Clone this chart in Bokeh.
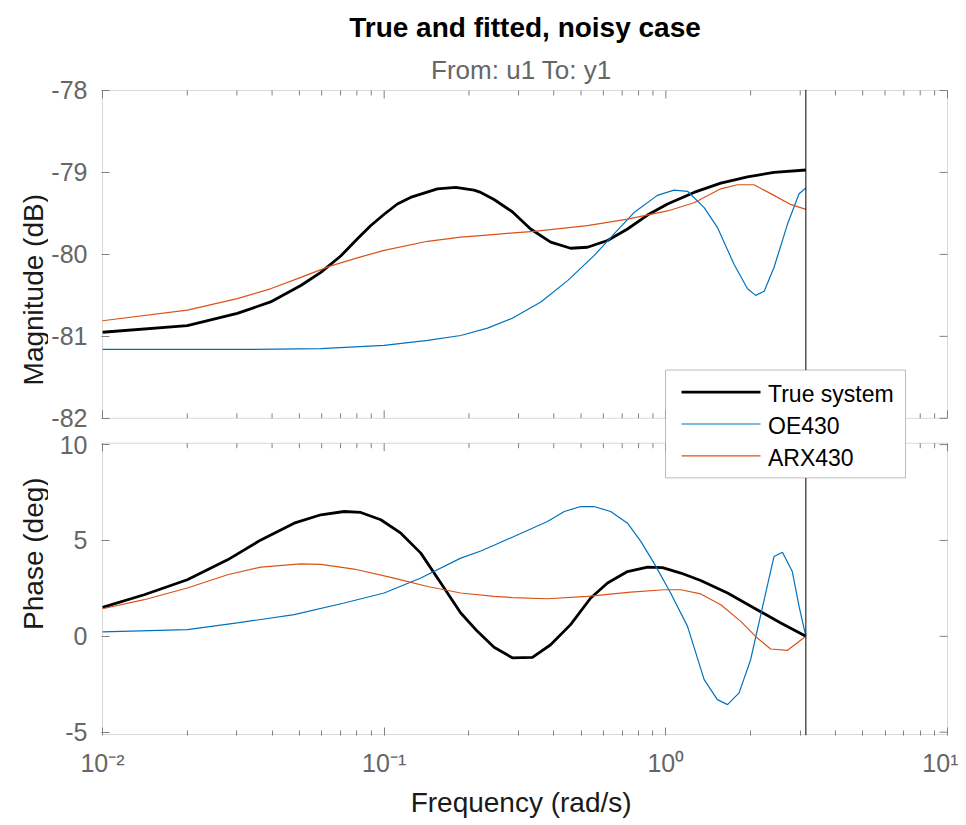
import math
from bokeh.plotting import figure
from bokeh.layouts import row
from bokeh.models import (Range1d, FixedTicker, Legend, LegendItem, Span, BoxAnnotation, Label, Title)
from bokeh.embed import file_html
from bokeh.resources import INLINE

# ---------------- data ----------------
W_TRUE_MAG = [0.01, 0.02, 0.0301, 0.0395, 0.0506, 0.0596, 0.0701, 0.0804, 0.0895, 0.1,
              0.1114, 0.124, 0.1545, 0.1795, 0.2084, 0.2203, 0.2455, 0.285, 0.331, 0.390,
              0.459, 0.527, 0.621, 0.731, 0.861, 1.014, 1.259, 1.567, 1.950, 2.421, 3.1416]
MAG_TRUE = [-80.95, -80.87, -80.72, -80.58, -80.38, -80.22, -80.02, -79.81, -79.65, -79.51,
            -79.385, -79.305, -79.20, -79.183, -79.215, -79.244, -79.33, -79.48, -79.69, -79.85,
            -79.925, -79.913, -79.83, -79.69, -79.52, -79.385, -79.244, -79.13, -79.053, -79.00, -78.97]

W_OE_MAG = [0.01, 0.0327, 0.0596, 0.1, 0.1426, 0.187, 0.2328, 0.285, 0.360, 0.448, 0.556,
            0.655, 0.771, 0.933, 1.069, 1.194, 1.368, 1.524, 1.746, 1.950, 2.084, 2.234,
            2.421, 2.704, 2.972, 3.1416]
MAG_OE = [-81.16, -81.16, -81.15, -81.11, -81.05, -80.99, -80.90, -80.78, -80.58, -80.32, -80.015,
          -79.75, -79.49, -79.28, -79.215, -79.23, -79.43, -79.67, -80.12, -80.42, -80.50, -80.45,
          -80.16, -79.63, -79.26, -79.19]

W_ARX_MAG = [0.01, 0.02, 0.0301, 0.0395, 0.0506, 0.0646, 0.0826, 0.1, 0.1426, 0.187, 0.220,
             0.281, 0.340, 0.527, 0.731, 1.014, 1.259, 1.567, 1.795, 2.056, 2.421, 2.773, 3.1416]
MAG_ARX = [-80.81, -80.68, -80.54, -80.42, -80.28, -80.14, -80.03, -79.95, -79.84, -79.79, -79.77,
           -79.74, -79.72, -79.65, -79.57, -79.47, -79.37, -79.20, -79.15, -79.15, -79.28, -79.39, -79.45]

W_TRUE_PH = [0.01, 0.01406, 0.02, 0.0278, 0.0365, 0.0479, 0.0596, 0.0721, 0.0826, 0.0973,
             0.1146, 0.1349, 0.1589, 0.187, 0.2143, 0.2455, 0.285, 0.336, 0.390, 0.459,
             0.541, 0.621, 0.731, 0.861, 0.973, 1.130, 1.330, 1.656, 2.056, 2.559, 3.1416]
PH_TRUE = [1.51, 2.17, 2.95, 3.99, 5.03, 5.90, 6.34, 6.51, 6.46, 6.08,
           5.38, 4.34, 2.78, 1.22, 0.26, -0.57, -1.12, -1.10, -0.44, 0.61,
           2.00, 2.78, 3.38, 3.61, 3.58, 3.30, 2.91, 2.26, 1.48, 0.70, 0.0]

W_OE_PH = [0.01, 0.02, 0.0301, 0.0479, 0.0721, 0.1, 0.1349, 0.187, 0.2203, 0.2455, 0.289,
           0.380, 0.436, 0.499, 0.556, 0.637, 0.731, 0.815, 0.908, 1.040, 1.194, 1.368,
           1.524, 1.656, 1.820, 2.000, 2.234, 2.421, 2.594, 2.812, 2.972, 3.1416]
PH_OE = [0.23, 0.35, 0.70, 1.13, 1.74, 2.26, 3.04, 4.08, 4.45, 4.75, 5.21,
         5.99, 6.51, 6.77, 6.77, 6.51, 5.90, 4.95, 3.82, 2.26, 0.52, -2.26,
         -3.30, -3.56, -2.95, -1.22, 1.91, 4.16, 4.39, 3.38, 1.56, 0.0]

W_ARX_PH = [0.01, 0.01406, 0.02, 0.0278, 0.0365, 0.0506, 0.0596, 0.0782, 0.1084, 0.1426,
            0.187, 0.2455, 0.285, 0.380, 0.527, 0.750, 0.986, 1.130, 1.330, 1.567,
            1.845, 2.113, 2.355, 2.704, 3.1416]
PH_ARX = [1.44, 1.91, 2.52, 3.21, 3.61, 3.78, 3.75, 3.51, 3.04, 2.60,
          2.26, 2.08, 2.02, 1.96, 2.08, 2.31, 2.43, 2.43, 2.21, 1.65,
          0.78, -0.09, -0.66, -0.73, 0.0]

NYQUIST = 3.1416
SERIES_NAMES = ["True system", "OE430", "ARX430"]
MAG_TICKS = [-82, -81, -80, -79, -78]
PH_TICKS = [-5, 0, 5, 10]
X_TICKS = [0.01, 0.1, 1.0, 10.0]
X_TICK_LABELS = ["10\u207b\u00b2", "10\u207b\u00b9", "10\u2070", "10\u00b9"]
X_MINOR = [m * d for d in (0.01, 0.1, 1.0) for m in range(2, 10)]

# ---------------- layout ----------------
FONT = "Liberation Sans"
TOTAL_W, H = 958, 820
STRIP_W = 48                      # narrow strip holding the y-axis titles
W = TOTAL_W - STRIP_W
FRAME_LEFT_PAGE, FRAME_TOP_PAGE = 101, 89
FRAME_W, FRAME_H = 847, 647
BL = FRAME_LEFT_PAGE - STRIP_W
BT = FRAME_TOP_PAGE
BR = W - BL - FRAME_W
BB = H - BT - FRAME_H
MAG_LIM = (-82.0, -78.0)
PH_LIM = (-5.12, 10.07)
MAG_PANEL_PX = 328.3
PH_PANEL_PX = 291.7

mag_per_px = (MAG_LIM[1] - MAG_LIM[0]) / MAG_PANEL_PX
ph_per_px = (PH_LIM[1] - PH_LIM[0]) / PH_PANEL_PX
MAG_RANGE = (MAG_LIM[1] + mag_per_px - FRAME_H * mag_per_px, MAG_LIM[1] + mag_per_px)
PH_RANGE = (PH_LIM[0] - ph_per_px, PH_LIM[0] - ph_per_px + FRAME_H * ph_per_px)
lx0, lx1 = math.log10(X_TICKS[0]), math.log10(X_TICKS[-1])
px_per_decade = (FRAME_W - 2) / (lx1 - lx0)
X_RANGE = (10 ** (lx0 - 1 / px_per_decade), 10 ** (lx1 + 1 / px_per_decade))


def fx(px):
    """frame pixel (from frame left) -> x data value"""
    return 10 ** (math.log10(X_RANGE[0]) + px / px_per_decade)


def fy(px):
    """frame pixel (from frame bottom) -> magnitude-range value"""
    return MAG_RANGE[0] + px * mag_per_px


AX_COL = "#808080"
TICK_LBL = "#666666"

p = figure(width=W, height=H, x_axis_type="log",
           x_range=Range1d(*X_RANGE), y_range=Range1d(*MAG_RANGE),
           output_backend="svg", toolbar_location=None,
           min_border_left=BL, min_border_right=BR, min_border_top=BT, min_border_bottom=BB)
p.extra_y_ranges = {"phase": Range1d(*PH_RANGE)}
p.outline_line_color = None
p.xgrid.visible = False
p.ygrid.visible = False
p.background_fill_color = "white"
p.border_fill_color = "white"
p.title.text = ""
p.title.visible = False


def to_mag(v):
    return MAG_RANGE[0] + (v - PH_RANGE[0]) * (MAG_RANGE[1] - MAG_RANGE[0]) / (PH_RANGE[1] - PH_RANGE[0])


left_ticks = [float(t) for t in MAG_TICKS] + [to_mag(t) for t in PH_TICKS]
left_over = {float(t): str(t) for t in MAG_TICKS}
for t in PH_TICKS:
    left_over[to_mag(t)] = str(t)

ya = p.yaxis[0]
ya.ticker = FixedTicker(ticks=left_ticks)
ya.axis_line_color = None
ya.major_tick_in = 8
ya.major_tick_out = 0
ya.major_tick_line_color = AX_COL
ya.minor_tick_line_color = None
ya.major_label_overrides = left_over
ya.major_label_text_font = FONT
ya.major_label_text_font_size = "25px"
ya.major_label_text_color = TICK_LBL
ya.major_label_standoff = 14

xb = p.xaxis[0]
xb.ticker = FixedTicker(ticks=X_TICKS, minor_ticks=X_MINOR)
xb.axis_line_color = None
xb.major_tick_in = 8
xb.major_tick_out = 0
xb.minor_tick_in = 5
xb.minor_tick_out = 0
xb.major_tick_line_color = AX_COL
xb.minor_tick_line_color = AX_COL
xb.major_label_overrides = dict(zip(X_TICKS, X_TICK_LABELS))
xb.major_label_text_font = FONT
xb.major_label_text_font_size = "25px"
xb.major_label_text_color = TICK_LBL
xb.major_label_standoff = 13
xb.axis_label = "Frequency  (rad/s)"
xb.axis_label_text_font = FONT
xb.axis_label_text_font_size = "28px"
xb.axis_label_text_font_style = "normal"
xb.axis_label_text_color = "#1a1a1a"
xb.axis_label_standoff = 7

# title and subtitle (first added sits closest to the frame)
p.add_layout(Title(text="From: u1  To: y1", text_font=FONT, text_font_size="26px",
                   text_font_style="normal", text_color="#666666", align="center",
                   vertical_align="middle", standoff=8), "above")
p.add_layout(Title(text="True and fitted, noisy case", text_font=FONT, text_font_size="28px",
                   text_font_style="bold", text_color="black", align="center",
                   vertical_align="middle", standoff=12), "above")

# panel boxes
p.add_layout(BoxAnnotation(left=X_TICKS[0], right=X_TICKS[-1], bottom=MAG_LIM[0], top=MAG_LIM[1],
                           fill_alpha=0, line_color=AX_COL, line_width=1))
p.add_layout(BoxAnnotation(left=X_TICKS[0], right=X_TICKS[-1], bottom=PH_LIM[0], top=PH_LIM[1],
                           y_range_name="phase", fill_alpha=0, line_color=AX_COL, line_width=1))

# x ticks at the other panel edges (top of magnitude, bottom of magnitude, top of phase)
nmaj, nmin = len(X_TICKS), len(X_MINOR)
for y_edge, sign, per_px, rname in [(MAG_LIM[1], -1, mag_per_px, "default"),
                                    (MAG_LIM[0], 1, mag_per_px, "default"),
                                    (PH_LIM[1], -1, ph_per_px, "phase")]:
    p.segment(x0=X_TICKS, x1=X_TICKS, y0=[y_edge] * nmaj, y1=[y_edge + sign * 8 * per_px] * nmaj,
              line_color=AX_COL, line_width=1, y_range_name=rname)
    p.segment(x0=X_MINOR, x1=X_MINOR, y0=[y_edge] * nmin, y1=[y_edge + sign * 5 * per_px] * nmin,
              line_color=AX_COL, line_width=1, y_range_name=rname)

# y ticks on the right edge
x_right = X_TICKS[-1]
x_in = 10 ** (lx1 - 8 / px_per_decade)
p.segment(x0=[x_right] * len(MAG_TICKS), x1=[x_in] * len(MAG_TICKS), y0=MAG_TICKS, y1=MAG_TICKS,
          line_color=AX_COL, line_width=1)
p.segment(x0=[x_right] * len(PH_TICKS), x1=[x_in] * len(PH_TICKS), y0=PH_TICKS, y1=PH_TICKS,
          line_color=AX_COL, line_width=1, y_range_name="phase")

# Nyquist line
p.add_layout(Span(location=NYQUIST, dimension="height", line_color="black", line_width=1))

BLACK, BLUE, ORANGE = "#000000", "#0072BD", "#D95319"
COLORS = [BLACK, BLUE, ORANGE]
WIDTHS = [2.8, 1.2, 1.2]
mag_series = [(W_TRUE_MAG, MAG_TRUE), (W_OE_MAG, MAG_OE), (W_ARX_MAG, MAG_ARX)]
ph_series = [(W_TRUE_PH, PH_TRUE), (W_OE_PH, PH_OE), (W_ARX_PH, PH_ARX)]
mag_renderers = []
for (wx, yy), c, lw in zip(mag_series, COLORS, WIDTHS):
    mag_renderers.append(p.line(wx, yy, line_color=c, line_width=lw))
for (wx, yy), c, lw in zip(ph_series, COLORS, WIDTHS):
    p.line(wx, yy, line_color=c, line_width=lw, y_range_name="phase")

# legend: white framed box, sample strokes, then the (transparent) Legend with the entries
LEG_LEFT, LEG_BOTTOM, LEG_PAD, LEG_W = 564, 258, 8, 240
ROW_H, ROW_GAP = 28, 4
SAMPLE_X0, SAMPLE_X1 = 580, 659          # frame px of the sample strokes
TEXT_X = 668
TEXT_DX, TEXT_DY = 7, 5                  # measured offset of the borderless legend's entries
n = len(SERIES_NAMES)
leg_top = LEG_BOTTOM + 2 * LEG_PAD + n * ROW_H + (n - 1) * ROW_GAP
p.add_layout(BoxAnnotation(left=fx(LEG_LEFT), right=fx(LEG_LEFT + LEG_W),
                           bottom=fy(LEG_BOTTOM), top=fy(leg_top),
                           fill_color="white", fill_alpha=1, line_color="#262626", line_width=1))
for i, (c, lw) in enumerate(zip(COLORS, WIDTHS)):
    yc = leg_top - LEG_PAD - ROW_H / 2 - i * (ROW_H + ROW_GAP)
    p.add_layout(BoxAnnotation(left=fx(SAMPLE_X0), right=fx(SAMPLE_X1),
                               bottom=fy(yc - lw / 2), top=fy(yc + lw / 2),
                               fill_color=c, fill_alpha=1, line_color=None))
legend = Legend(items=[LegendItem(label=nm, renderers=[r]) for nm, r in zip(SERIES_NAMES, mag_renderers)],
                location=(LEG_LEFT, LEG_BOTTOM + TEXT_DY), margin=0, padding=LEG_PAD, spacing=ROW_GAP,
                glyph_width=0, glyph_height=ROW_H, label_height=ROW_H,
                label_standoff=TEXT_X - LEG_LEFT - LEG_PAD + TEXT_DX,
                label_text_font=FONT, label_text_font_size="23px", label_text_color="black",
                border_line_color=None, background_fill_alpha=0)
p.add_layout(legend)

# ---------------- strip with the two y-axis titles ----------------
s = figure(width=STRIP_W, height=H, x_range=Range1d(0, STRIP_W), y_range=Range1d(0, H),
           x_axis_location=None, y_axis_location=None, output_backend="svg",
           toolbar_location=None, min_border_left=0, min_border_right=0,
           min_border_top=0, min_border_bottom=0)
s.outline_line_color = None
s.xgrid.visible = False
s.ygrid.visible = False
s.title.visible = False
mag_center_page = FRAME_TOP_PAGE + 1 + MAG_PANEL_PX / 2
ph_center_page = FRAME_TOP_PAGE + FRAME_H - 1 - PH_PANEL_PX / 2
s.add_layout(Label(x=33, y=H - mag_center_page, text="Magnitude (dB)", angle=math.pi / 2,
                   text_font=FONT, text_font_size="28px", text_color="#1a1a1a",
                   text_align="center", text_baseline="middle"))
s.add_layout(Label(x=33, y=H - ph_center_page, text="Phase (deg)", angle=math.pi / 2,
                   text_font=FONT, text_font_size="28px", text_color="#1a1a1a",
                   text_align="center", text_baseline="middle"))

layout = row(s, p)
open("out.html", "w").write(file_html(layout, INLINE))
